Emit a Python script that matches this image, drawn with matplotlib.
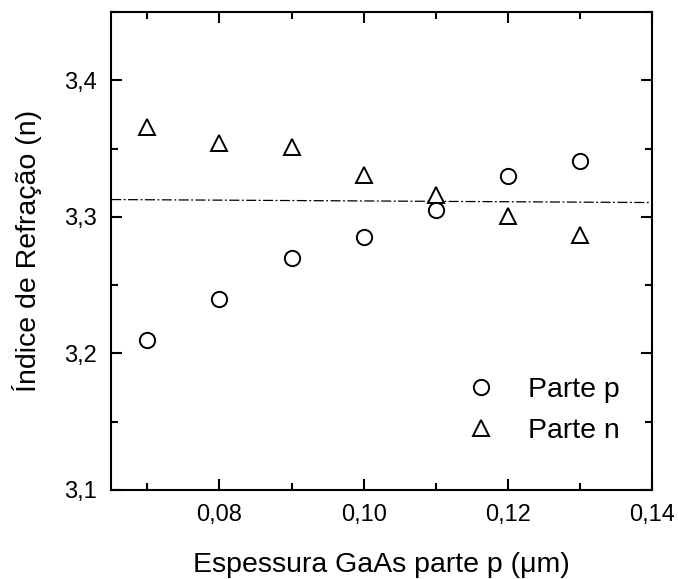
import matplotlib.pyplot as plt
from matplotlib.ticker import MultipleLocator, FuncFormatter

# espessura da camada GaAs (um)
espessura = [0.07, 0.08, 0.09, 0.10, 0.11, 0.12, 0.13]
n_parte_p = [3.210, 3.240, 3.270, 3.285, 3.305, 3.330, 3.341]
n_parte_n = [3.366, 3.354, 3.351, 3.331, 3.316, 3.301, 3.287]

# linha de referencia (traco-ponto)
ref_x = [0.065, 0.14]
ref_n = [3.3127, 3.3105]

plt.rcParams['font.family'] = ['Liberation Sans', 'DejaVu Sans']

fig = plt.figure(figsize=(6.78, 5.79), dpi=100)
ax = fig.add_axes([0.164, 0.154, 0.798, 0.825])

ax.plot(ref_x, ref_n, color='black', lw=0.9, ls=(0, (8, 2, 1.5, 2)))
ax.plot(espessura, n_parte_p, ls='none', marker='o', ms=11, mfc='white',
        mec='black', mew=1.4, label='Parte p')
ax.plot(espessura, n_parte_n, ls='none', marker='^', ms=12, mfc='white',
        mec='black', mew=1.4, label='Parte n')

ax.set_xlim(0.065, 0.14)
ax.set_ylim(3.1, 3.45)
ax.xaxis.set_major_locator(MultipleLocator(0.02))
ax.xaxis.set_minor_locator(MultipleLocator(0.01))
ax.yaxis.set_major_locator(MultipleLocator(0.1))
ax.yaxis.set_minor_locator(MultipleLocator(0.05))

fmt_x = FuncFormatter(lambda v, p: f'{v:.2f}'.replace('.', ','))
fmt_y = FuncFormatter(lambda v, p: f'{v:.1f}'.replace('.', ','))
ax.xaxis.set_major_formatter(fmt_x)
ax.yaxis.set_major_formatter(fmt_y)

ax.tick_params(which='both', direction='in', top=True, right=True, width=1.5)
ax.tick_params(which='major', length=8, labelsize=17, pad=10)
ax.tick_params(which='minor', length=5)
for s in ax.spines.values():
    s.set_linewidth(1.5)

ax.set_xlabel('Espessura GaAs parte p (\u03bcm)', fontsize=20.5, labelpad=19)
ax.set_ylabel('\u00cdndice de Refra\u00e7\u00e3o (n)', fontsize=20.5, labelpad=16)

ax.legend(loc='lower right', bbox_to_anchor=(0.988, 0.043), frameon=False,
          fontsize=20.5, handletextpad=0.65, labelspacing=0.5)

fig.savefig('out.png', dpi=100)
plt.close(fig)
